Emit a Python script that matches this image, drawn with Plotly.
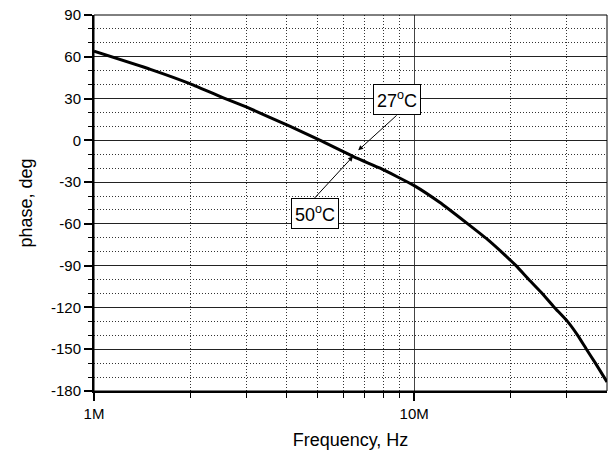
import numpy as np
import plotly.graph_objects as go

# Phase response vs. frequency
freq_hz = [1.0e6, 1.5e6, 2.0e6, 2.57e6, 3.0e6, 4.1e6, 5.09e6, 6.62e6, 7.83e6,
           10.0e6, 12.0e6, 14.7e6, 16.9e6, 18.8e6, 20.8e6, 22.8e6, 25.1e6,
           27.4e6, 30.1e6, 32.4e6, 34.5e6, 36.8e6, 40.0e6]
phase_deg = [64.0, 51.0, 40.6, 30.0, 23.8, 10.0, 0.0, -12.8, -20.0,
             -32.5, -44.5, -60.0, -71.0, -80.5, -90.0, -100.0, -110.0,
             -120.0, -130.0, -140.0, -150.0, -160.0, -173.5]

x_tick_vals = [1e6, 1e7]
x_tick_text = ["1M", "10M"]
y_tick_vals = list(range(-180, 91, 30))
y_tick_text = [str(v) for v in y_tick_vals]

label_27 = "27<sup>o</sup>C"
label_50 = "50<sup>o</sup>C"

fig = go.Figure()
fig.add_trace(go.Scatter(
    x=freq_hz, y=phase_deg, mode="lines",
    line=dict(color="black", width=3, shape="spline", smoothing=0.4),
    showlegend=False, hoverinfo="skip",
))

font_family = "Liberation Sans, Arial, sans-serif"
dots = "1px,2px"

fig.update_layout(
    width=612, height=452,
    margin=dict(l=94, r=5, t=15, b=61),
    paper_bgcolor="white", plot_bgcolor="white",
    font=dict(family=font_family, color="black", size=15),
    xaxis=dict(
        type="log", range=[6, np.log10(4e7)],
        tickvals=x_tick_vals, ticktext=x_tick_text,
        ticks="outside", ticklen=8, tickwidth=1.5, tickcolor="black",
        showline=True, linecolor="black", linewidth=2,
        showgrid=True, gridcolor="#444", gridwidth=1,
        zeroline=False,
        minor=dict(tickvals=[2e6, 3e6, 4e6, 5e6, 6e6, 7e6, 8e6, 9e6, 2e7, 3e7],
                   ticks="outside", ticklen=5, tickwidth=1, tickcolor="black",
                   showgrid=True, gridcolor="#333", griddash=dots, gridwidth=1),
        title=dict(text="Frequency, Hz", font=dict(size=18), standoff=12),
        tickfont=dict(size=15),
    ),
    yaxis=dict(
        range=[-180, 90],
        tickvals=y_tick_vals, ticktext=y_tick_text,
        ticks="outside", ticklen=8, tickwidth=1.5, tickcolor="black",
        showline=True, linecolor="black", linewidth=2,
        showgrid=True, gridcolor="#222", gridwidth=1,
        zeroline=False,
        minor=dict(dtick=10, ticks="outside", ticklen=4, tickwidth=1,
                   tickcolor="black", showgrid=True, gridcolor="#333",
                   griddash=dots, gridwidth=1),
        title=dict(text="phase, deg", font=dict(size=18), standoff=14),
        tickfont=dict(size=15),
    ),
)

# thin frame on top and right
fig.add_shape(type="rect", xref="paper", yref="paper", x0=0, y0=0, x1=1, y1=1,
              line=dict(color="black", width=1), layer="above")

# temperature labels with arrows pointing at the curve
label_style = dict(showarrow=True, arrowhead=2, arrowsize=1, arrowwidth=1,
                   arrowcolor="black", xref="x", yref="y", axref="x", ayref="y",
                   xanchor="center",
                   bordercolor="black", borderwidth=1, borderpad=3,
                   bgcolor="white", font=dict(size=18, family=font_family))
fig.add_annotation(x=6.825, y=-7.2, ax=6.945, ay=17.9, yanchor="bottom",
                   text=label_27, **label_style)
fig.add_annotation(x=6.809, y=-11.5, ax=6.689, ay=-41.4, yanchor="top",
                   text=label_50, **label_style)

fig.write_html("out.html")
